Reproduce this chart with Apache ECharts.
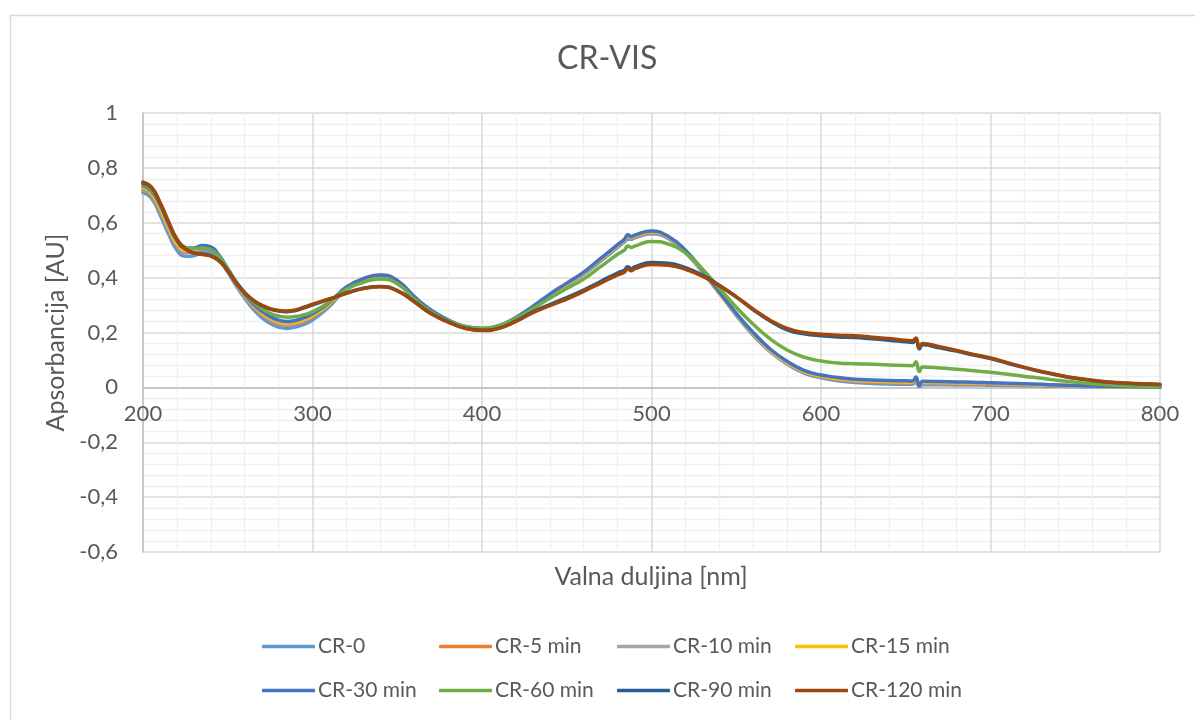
<!DOCTYPE html>
<html>
<head>
<meta charset="utf-8">
<script src="https://cdn.jsdelivr.net/npm/echarts@6/dist/echarts.min.js"></script>
<style>
html,body{margin:0;padding:0;background:#fff;}
#chart{width:1195px;height:720px;}
</style>
</head>
<body>
<div id="chart"></div>
<script>
// Wavelengths [nm]
var wavelengths = [200,205,210,215,220,225,230,235,240,245,250,255,260,265,270,275,280,285,290,295,300,
  310,320,330,340,350,360,370,380,390,400,410,420,430,440,450,460,470,480,484,486,488,
  490,500,510,520,530,540,550,560,570,580,590,600,610,620,630,640,650,654,656,658,
  660,670,680,690,700,710,720,730,740,750,760,770,780,790,800];

var seriesNames = ['CR-0','CR-5 min','CR-10 min','CR-15 min','CR-30 min','CR-60 min','CR-90 min','CR-120 min'];
var seriesColors = ['#5B9BD5','#ED7D31','#A5A5A5','#FFC000','#4472C4','#70AD47','#255E91','#9E480E'];

var cr0 = [0.710,0.690,0.630,0.560,0.500,0.478,0.480,0.494,0.492,0.465,0.420,0.370,0.325,0.285,0.255,0.233,0.220,0.215,0.220,0.230,0.245,
  0.295,0.360,0.392,0.405,0.385,0.328,0.278,0.243,0.220,0.213,0.222,0.250,0.290,0.333,0.373,0.412,0.460,0.510,0.530,0.540,0.540,
  0.545,0.560,0.542,0.492,0.420,0.345,0.262,0.190,0.130,0.085,0.052,0.035,0.024,0.018,0.014,0.012,0.011,0.011,0.020,0.003,
  0.010,0.010,0.009,0.009,0.008,0.007,0.006,0.005,0.004,0.003,0.002,0.002,0.001,0.001,0.000];
var cr5 = [0.720,0.700,0.645,0.575,0.515,0.492,0.494,0.505,0.502,0.472,0.426,0.376,0.332,0.294,0.265,0.244,0.231,0.226,0.230,0.240,0.255,
  0.302,0.362,0.393,0.407,0.387,0.329,0.279,0.244,0.221,0.214,0.223,0.252,0.292,0.336,0.376,0.415,0.464,0.514,0.534,0.546,0.544,
  0.549,0.564,0.546,0.496,0.423,0.343,0.266,0.195,0.134,0.089,0.056,0.039,0.028,0.022,0.019,0.017,0.016,0.016,0.026,0.006,
  0.015,0.014,0.013,0.012,0.011,0.010,0.009,0.008,0.006,0.005,0.004,0.003,0.002,0.001,0.001];
var cr10 = [0.725,0.705,0.650,0.580,0.520,0.496,0.498,0.508,0.505,0.474,0.428,0.378,0.334,0.297,0.268,0.248,0.235,0.230,0.234,0.244,0.259,
  0.304,0.363,0.394,0.408,0.388,0.330,0.280,0.245,0.222,0.215,0.224,0.253,0.293,0.337,0.377,0.416,0.466,0.516,0.536,0.548,0.546,
  0.551,0.566,0.547,0.497,0.424,0.344,0.267,0.196,0.135,0.090,0.057,0.040,0.030,0.024,0.021,0.019,0.018,0.018,0.029,0.007,
  0.017,0.016,0.015,0.014,0.013,0.011,0.010,0.008,0.007,0.005,0.004,0.003,0.002,0.001,0.001];
var cr15 = [0.730,0.710,0.655,0.585,0.525,0.500,0.502,0.512,0.508,0.477,0.430,0.380,0.337,0.301,0.273,0.252,0.240,0.235,0.238,0.248,0.262,
  0.306,0.364,0.394,0.409,0.389,0.330,0.280,0.245,0.222,0.215,0.224,0.254,0.294,0.338,0.378,0.418,0.468,0.518,0.538,0.552,0.548,
  0.553,0.567,0.548,0.498,0.425,0.345,0.268,0.197,0.136,0.091,0.058,0.042,0.032,0.026,0.023,0.021,0.020,0.020,0.032,0.006,
  0.019,0.018,0.017,0.016,0.015,0.013,0.011,0.009,0.008,0.006,0.004,0.003,0.002,0.001,0.001];
var cr30 = [0.735,0.715,0.665,0.595,0.535,0.508,0.508,0.517,0.512,0.480,0.432,0.382,0.340,0.305,0.278,0.258,0.245,0.240,0.244,0.254,0.268,
  0.310,0.366,0.396,0.410,0.390,0.331,0.281,0.246,0.222,0.215,0.225,0.255,0.295,0.340,0.380,0.420,0.470,0.520,0.540,0.556,0.550,
  0.555,0.570,0.550,0.500,0.428,0.348,0.270,0.200,0.140,0.095,0.062,0.045,0.036,0.030,0.027,0.025,0.024,0.023,0.038,0.006,
  0.022,0.021,0.020,0.019,0.017,0.015,0.013,0.011,0.009,0.007,0.005,0.004,0.003,0.002,0.001];
var cr60 = [0.740,0.720,0.670,0.600,0.540,0.510,0.505,0.508,0.502,0.475,0.432,0.385,0.345,0.312,0.287,0.270,0.260,0.256,0.258,0.265,0.275,
  0.312,0.358,0.383,0.395,0.378,0.322,0.275,0.243,0.222,0.215,0.225,0.252,0.287,0.325,0.360,0.395,0.440,0.485,0.500,0.515,0.510,
  0.515,0.532,0.522,0.490,0.432,0.362,0.292,0.230,0.177,0.136,0.110,0.096,0.089,0.086,0.084,0.082,0.080,0.079,0.093,0.058,
  0.074,0.071,0.066,0.061,0.055,0.048,0.040,0.033,0.025,0.019,0.013,0.009,0.006,0.004,0.003];
var cr90 = [0.745,0.728,0.672,0.602,0.538,0.505,0.490,0.486,0.480,0.462,0.426,0.381,0.345,0.317,0.298,0.285,0.278,0.276,0.280,0.290,0.301,
  0.322,0.344,0.361,0.368,0.353,0.313,0.269,0.239,0.216,0.208,0.216,0.242,0.275,0.302,0.327,0.355,0.386,0.417,0.427,0.440,0.432,
  0.439,0.455,0.452,0.436,0.409,0.372,0.330,0.283,0.242,0.210,0.195,0.188,0.184,0.182,0.177,0.172,0.166,0.164,0.175,0.140,
  0.155,0.144,0.132,0.118,0.105,0.088,0.072,0.057,0.044,0.033,0.025,0.019,0.015,0.012,0.010];
var cr120 = [0.748,0.730,0.675,0.605,0.540,0.505,0.490,0.484,0.478,0.460,0.425,0.380,0.345,0.318,0.300,0.287,0.280,0.278,0.282,0.292,0.303,
  0.322,0.343,0.360,0.367,0.352,0.312,0.268,0.238,0.215,0.207,0.215,0.240,0.272,0.298,0.322,0.350,0.380,0.410,0.420,0.432,0.425,
  0.432,0.448,0.445,0.430,0.405,0.370,0.330,0.285,0.245,0.215,0.200,0.194,0.190,0.188,0.183,0.178,0.172,0.170,0.180,0.145,
  0.160,0.148,0.135,0.120,0.107,0.090,0.073,0.058,0.045,0.034,0.026,0.020,0.016,0.013,0.011];

var seriesValues = [cr0, cr5, cr10, cr15, cr30, cr60, cr90, cr120];

var yTicks = [-0.6, 1, 0.2];   // min, max, interval
var xTicks = [200, 800, 100];

var FONT = 'Lato, "Open Sans", sans-serif';
var TXT = '#595959';

function pairs(vals){
  var out = [];
  for (var i = 0; i < wavelengths.length; i++) out.push([wavelengths[i], vals[i]]);
  return out;
}

var series = seriesNames.map(function(n, i){
  return {
    name: n, type: 'line', data: pairs(seriesValues[i]),
    symbol: 'none', showSymbol: false, smooth: 0.5,
    lineStyle: {width: 3.5, color: seriesColors[i], cap: 'round', join: 'round'},
    itemStyle: {color: seriesColors[i]},
    emphasis: {disabled: true}, animation: false
  };
});

var colX = [262, 439, 617, 795];
var rowTop = [636, 680];
var legends = seriesNames.map(function(n, i){
  return {
    data: [{name: n, icon: 'roundRect'}], left: colX[i % 4], top: rowTop[Math.floor(i / 4)],
    itemWidth: 53, itemHeight: 3.5, itemGap: 0, padding: 0,
    textStyle: {color: TXT, fontSize: 21, fontFamily: FONT, padding: [0,0,0,-2]},
    selectedMode: false
  };
});

var chart = echarts.init(document.getElementById('chart'), null, {renderer: 'canvas'});
chart.setOption({
  backgroundColor: '#ffffff',
  animation: false,
  title: {
    text: 'CR-VIS', left: 557, top: 43, padding: 0,
    textStyle: {color: TXT, fontSize: 32, fontWeight: 'normal', fontFamily: FONT}
  },
  legend: legends,
  grid: {left: 143, right: 35, top: 113, bottom: 168, containLabel: false},
  xAxis: {
    type: 'value', min: xTicks[0], max: xTicks[1], interval: xTicks[2],
    position: 'bottom', offset: -164,
    axisLine: {show: true, onZero: false, lineStyle: {color: '#BFBFBF', width: 1.5}},
    axisTick: {show: false},
    minorTick: {show: false, splitNumber: 5},
    minorSplitLine: {show: true, lineStyle: {color: '#F0F0F0', width: 1.3}},
    splitLine: {show: true, lineStyle: {color: '#D9D9D9', width: 1.5}},
    axisLabel: {color: TXT, fontSize: 22, fontFamily: FONT, margin: 15}
  },
  yAxis: {
    type: 'value', min: yTicks[0], max: yTicks[1], interval: yTicks[2],
    name: 'Apsorbancija [AU]', nameLocation: 'middle', nameGap: 62,
    nameTextStyle: {color: TXT, fontSize: 25, fontFamily: FONT},
    axisLine: {show: true, lineStyle: {color: '#BFBFBF', width: 1.5}},
    axisTick: {show: false},
    minorTick: {show: false, splitNumber: 5},
    minorSplitLine: {show: true, lineStyle: {color: '#F0F0F0', width: 1.3}},
    splitLine: {show: true, lineStyle: {color: '#D9D9D9', width: 1.5}},
    axisLabel: {
      color: TXT, fontSize: 22, fontFamily: FONT, margin: 25,
      formatter: function(v){ return String(Math.round(v * 10) / 10).replace('.', ','); }
    }
  },
  graphic: [
    {type: 'rect', left: 8, top: 13, z: -10, silent: true,
     shape: {width: 1200, height: 720}, style: {fill: 'none', stroke: '#D9D9D9', lineWidth: 1.5}},
    {type: 'text', x: 651, y: 577, silent: true,
     style: {text: 'Valna duljina [nm]', align: 'center', verticalAlign: 'middle', fill: TXT, fontSize: 25, fontFamily: FONT}}
  ],
  series: series
});
</script>
</body>
</html>
